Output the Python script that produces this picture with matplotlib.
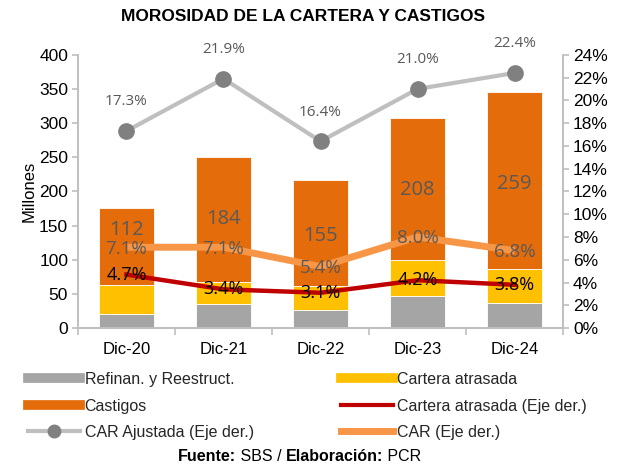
import matplotlib
matplotlib.use("Agg")
import matplotlib.pyplot as plt
import numpy as np
from matplotlib.lines import Line2D

plt.rcParams['font.family'] = ['Liberation Sans', 'DejaVu Sans']

categories = ["Dic-20", "Dic-21", "Dic-22", "Dic-23", "Dic-24"]
refinan = [20, 35, 26, 47, 37]
cartera_atrasada = [43, 32, 36, 53, 49]
castigos = [112, 184, 155, 208, 259]
ca_pct = [4.7, 3.4, 3.1, 4.2, 3.8]
car_pct = [7.1, 7.1, 5.4, 8.0, 6.8]
car_aj_pct = [17.3, 21.9, 16.4, 21.0, 22.4]

c_gray = "#A5A5A5"
c_yellow = "#FFC000"
c_orange = "#E46C0A"
c_red = "#C00000"
c_car = "#F79646"
c_caraj = "#BFBFBF"
c_mark = "#808080"
c_lbl = "#595959"
c_axis = "#BFBFBF"
lbl_font = ["Open Sans", "DejaVu Sans"]

fig = plt.figure(figsize=(6.23, 4.68), dpi=100)
ax = fig.add_axes([0.125, 0.299, 0.779, 0.584])
ax2 = ax.twinx()

x = np.arange(len(categories))
w = 0.56
ax.bar(x, refinan, w, color=c_gray, edgecolor="white", linewidth=0.6, zorder=2)
bot2 = np.array(refinan)
ax.bar(x, cartera_atrasada, w, bottom=bot2, color=c_yellow, edgecolor="white", linewidth=0.6, zorder=2)
bot3 = bot2 + np.array(cartera_atrasada)
ax.bar(x, castigos, w, bottom=bot3, color=c_orange, edgecolor="white", linewidth=0.6, zorder=2)
label_nudge_pt = [12, 0, -2, -1, -2]
for xi, b, v, nd in zip(x, bot3, castigos, label_nudge_pt):
    ax.annotate(f"{v}", (xi, b + v / 2), xytext=(0, nd), textcoords="offset points",
                ha="center", va="center", fontsize=14.5, color=c_lbl, family=lbl_font, zorder=6)

ax.set_xlim(-0.5, len(categories) - 0.5)
ax.set_ylim(0, 400)
ax.set_yticks(np.arange(0, 401, 50))
ax.set_ylabel("Millones", fontsize=12, labelpad=2)
ax.set_xticks(x)
ax.set_xticklabels(categories, fontsize=12)
ax.set_xticks(np.arange(-0.5, len(categories), 1), minor=True)
ax.tick_params(axis="x", which="major", length=0, pad=10)
ax.tick_params(axis="x", which="minor", length=5, color=c_axis, width=1.2)
ax.tick_params(axis="y", labelsize=12.5, length=4, color=c_axis, width=1.2, pad=3)

ax2.set_ylim(0, 24)
ax2.set_yticks(np.arange(0, 25, 2))
ax2.set_yticklabels([f"{v}%" for v in range(0, 25, 2)])
ax2.tick_params(axis="y", labelsize=12.5, length=4, color=c_axis, width=1.2, pad=3)

for a in (ax, ax2):
    a.spines["top"].set_visible(False)
    for s in ("left", "right", "bottom"):
        a.spines[s].set_color(c_axis)
        a.spines[s].set_linewidth(1.2)

ax2.plot(x, car_aj_pct, color=c_caraj, lw=3, marker="o", markersize=11,
         markerfacecolor=c_mark, markeredgecolor=c_mark, zorder=3)
ax2.plot(x, car_pct, color=c_car, lw=5, zorder=3, solid_capstyle="butt")
ax2.plot(x, ca_pct, color=c_red, lw=3.2, zorder=4)

for xi, v in zip(x, car_aj_pct):
    ax2.annotate(f"{v:.1f}%", (xi, v), xytext=(0, 21), textcoords="offset points",
                 ha="center", va="center", fontsize=11, color=c_lbl, family=lbl_font)
for xi, v in zip(x, car_pct):
    ax2.annotate(f"{v:.1f}%", (xi, v), xytext=(0, -1), textcoords="offset points",
                 ha="center", va="center", fontsize=13.5,
                 color=c_lbl, family=lbl_font, zorder=6)
for xi, v in zip(x, ca_pct):
    ax2.text(xi, v, f"{v:.1f}%", ha="center", va="center", fontsize=13,
             color="black", family=lbl_font, zorder=6)

fig.text(0.487, 0.965, "MOROSIDAD DE LA CARTERA Y CASTIGOS", ha="center", va="center",
         fontsize=12.5, fontweight="bold")

h_gray = Line2D([], [], color=c_gray, lw=7)
h_yellow = Line2D([], [], color=c_yellow, lw=7)
h_orange = Line2D([], [], color=c_orange, lw=7)
h_red = Line2D([], [], color=c_red, lw=3)
h_caraj = Line2D([], [], color=c_caraj, lw=3, marker="o", markersize=9,
                 markerfacecolor=c_mark, markeredgecolor=c_mark)
h_car = Line2D([], [], color=c_car, lw=5)

leg_kw = dict(loc="upper left", frameon=False, fontsize=11.5, handlelength=3.25,
              handletextpad=0.3, labelspacing=0.72, borderaxespad=0, borderpad=0)
leg1 = fig.legend([h_gray, h_orange, h_caraj],
                  ["Refinan. y Reestruct.", "Castigos", "CAR Ajustada (Eje der.)"],
                  bbox_to_anchor=(0.045, 0.205), **leg_kw)
leg2 = fig.legend([h_yellow, h_red, h_car],
                  ["Cartera atrasada", "Cartera atrasada (Eje der.)", "CAR (Eje der.)"],
                  bbox_to_anchor=(0.547, 0.205), **leg_kw)
for lg in (leg1, leg2):
    for t in lg.get_texts():
        t.set_color("#262626")

# Source line with mixed bold/regular parts
parts = [("Fuente:", "bold"), (" SBS / ", "normal"), ("Elaboración:", "bold"), (" PCR", "normal")]
fig.canvas.draw()
renderer = fig.canvas.get_renderer()
texts = []
for s, wgt in parts:
    t = fig.text(0, 0.024, s, ha="left", va="center", fontsize=11.5, fontweight=wgt)
    texts.append(t)
widths = [t.get_window_extent(renderer).width for t in texts]
total = sum(widths)
x0 = 0.481 * fig.bbox.width - total / 2
for t, wd in zip(texts, widths):
    t.set_x(x0 / fig.bbox.width)
    x0 += wd

fig.savefig("out.png", dpi=100)
